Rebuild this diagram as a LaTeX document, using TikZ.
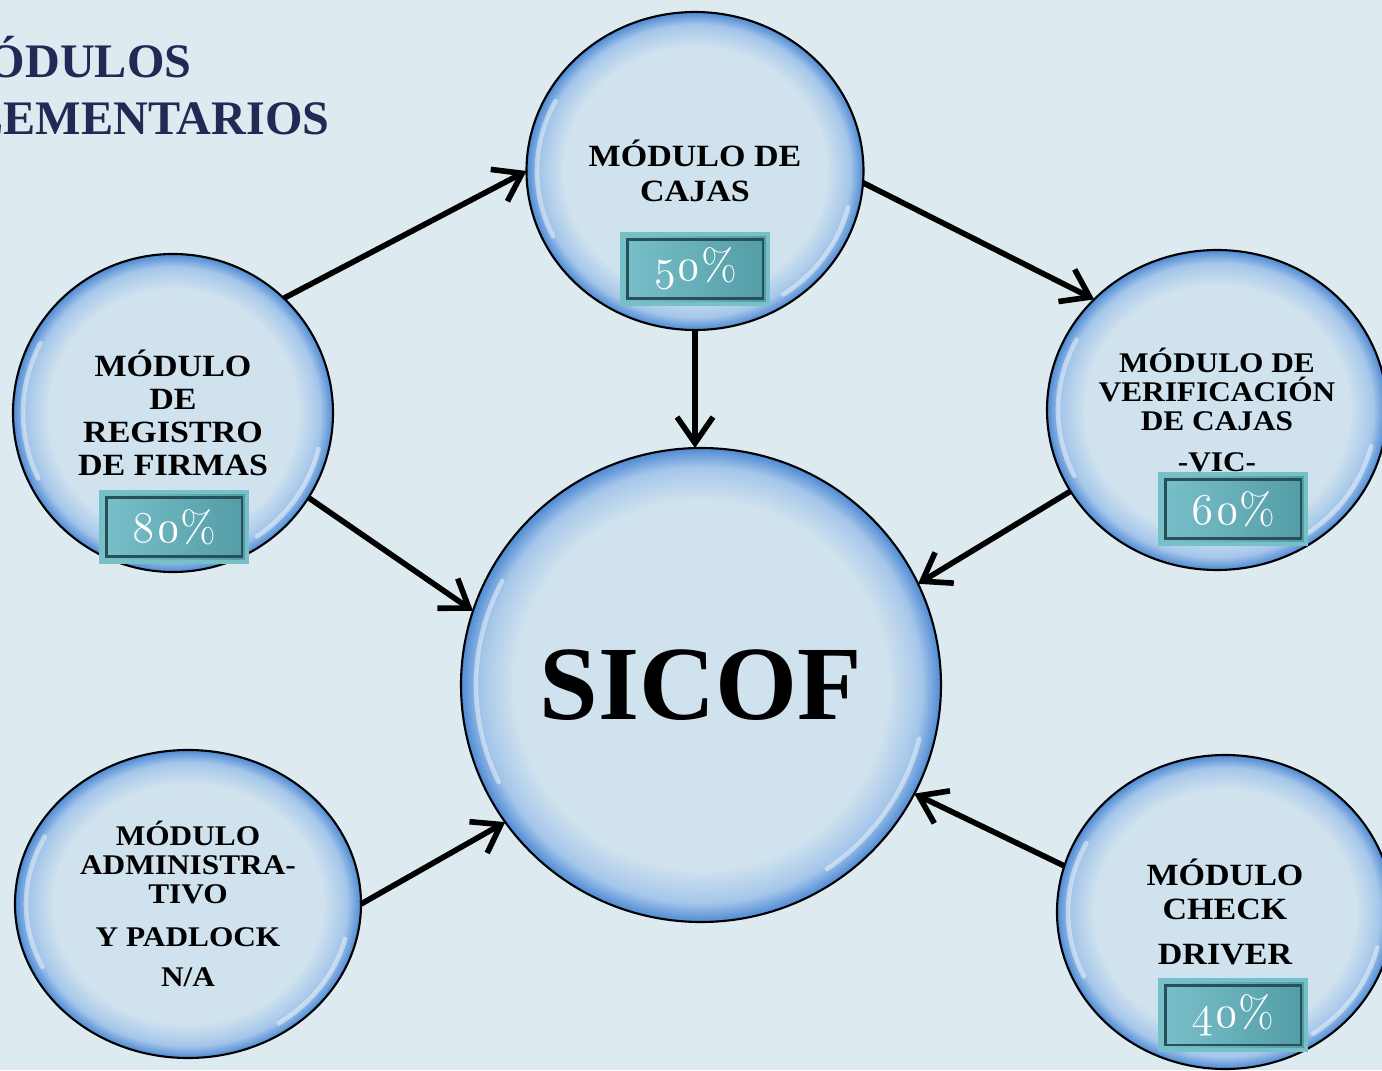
\documentclass[tikz,border=0pt]{standalone}
\usepackage{fontspec}
\usepackage{tikz}
\usetikzlibrary{shapes.geometric, arrows.meta}

\newfontfamily\lblfont[FakeStretch=1.1]{Liberation Serif}
\newfontfamily\sicoffont{Liberation Serif}
\newfontfamily\pctfont[Numbers=OldStyle]{Latin Modern Roman}

\newcommand\modfont{\lblfont\bfseries\fontsize{8.8pt}{8.6pt}\selectfont}
\newcommand\modsmall{\lblfont\bfseries\fontsize{8.1pt}{8.3pt}\selectfont}

\definecolor{bgcol}{RGB}{221,234,240}
\definecolor{bubin}{RGB}{207,226,238}
\definecolor{bubmid}{RGB}{165,198,234}
\definecolor{bubrim}{RGB}{78,138,212}
\definecolor{pctleft}{RGB}{122,192,202}
\definecolor{pctright}{RGB}{82,156,166}
\definecolor{pctrim}{RGB}{118,192,200}
\definecolor{pctline}{RGB}{40,80,88}
\definecolor{navy}{RGB}{37,40,85}

% glossy bubble: flat centre, blue rim
\pgfdeclareradialshading{bubshade}{\pgfpoint{0bp}{0bp}}{color(0bp)=(bubin); color(19.5bp)=(bubin); color(23bp)=(bubmid); color(25bp)=(bubrim); color(50bp)=(bubrim)}

\tikzset{
>={Straight Barb[length=2.6mm,width=3.6mm]}, % open barbed heads
bubble/.style={ellipse, draw=black, line width=0.6pt, shading=bubshade, inner sep=0pt, outer sep=0pt, align=center, font=\modfont},
gloss/.style={white, line width=1.3pt, opacity=0.45, line cap=round},
pct/.style={rectangle, minimum width=1.46cm, minimum height=0.70cm, draw=pctrim, line width=1.2pt,
  left color=pctleft, right color=pctright, text=white, font=\pctfont\fontsize{12.5pt}{13pt}\selectfont,
  path picture={\draw[pctline, line width=0.7pt] ([shift={(1.5pt,1.5pt)}]path picture bounding box.south west) rectangle ([shift={(-1.5pt,-1.5pt)}]path picture bounding box.north east);}},
title/.style={text=navy, font=\sicoffont\bfseries\fontsize{13.7pt}{15pt}\selectfont, inner sep=0pt},
link/.style={->, line width=1.6pt},
}

\begin{document}
\begin{tikzpicture}
    \clip (0,0) rectangle (13.82,10.70);
    \fill[bgcol] (0,0) rectangle (13.82,10.70);

    \node[title, anchor=base east] (title1) at (1.92,9.92) {MÓDULOS};
    \node[title, anchor=base east] (title2) at (3.30,9.35) {COMPLEMENTARIOS};

    \node[bubble, minimum width=4.80cm, minimum height=4.74cm, font=\sicoffont\bfseries\fontsize{30pt}{32pt}\selectfont] (sicof) at (7.01,3.85) {SICOF};
    \node[bubble, minimum width=3.37cm, minimum height=3.18cm] (cajas) at (6.95,8.99) {MÓDULO DE\\[1.4pt] CAJAS};
    \node[bubble, minimum width=3.20cm, minimum height=3.18cm] (firmas) at (1.73,6.57) {MÓDULO\\[0.8pt] DE\\[0.8pt] REGISTRO\\[0.8pt] DE FIRMAS};
    \node[bubble, minimum width=3.40cm, minimum height=3.20cm, font=\modsmall] (verif) at (12.17,6.60) {MÓDULO DE\\ VERIFICACIÓN\\ DE CAJAS\\[3.2pt] -VIC-};
    \node[bubble, minimum width=3.46cm, minimum height=3.08cm, font=\modsmall] (admin) at (1.88,1.66) {MÓDULO\\ ADMINISTRA-\\ TIVO\\[3.7pt] Y PADLOCK\\[3.2pt] N/A};
    \node[bubble, minimum width=3.36cm, minimum height=3.14cm] (check) at (12.25,1.58) {MÓDULO\\[1.1pt] CHECK\\[4.2pt] DRIVER};

    % highlights inside the rims
    \foreach \n/\a/\b in {sicof/2.25/2.22, cajas/1.58/1.49, firmas/1.50/1.49, verif/1.59/1.50, admin/1.62/1.44, check/1.57/1.47}{
        \draw[gloss] (\n.center) ++(152:\a cm and \b cm) arc[start angle=152, end angle=206, x radius=\a cm, y radius=\b cm];
        \draw[gloss] (\n.center) ++(-14:\a cm and \b cm) arc[start angle=-14, end angle=-56, x radius=\a cm, y radius=\b cm];
    }

    \node[pct] (pctcajas) at (6.95,8.01) {50\%};
    \node[pct] (pctfirmas) at (1.74,5.43) {80\%};
    \node[pct] (pctverif) at (12.33,5.61) {60\%};
    \node[pct] (pctcheck) at (12.33,0.55) {40\%};

    \draw[link] (firmas.46) -- (cajas.west);
    \draw[link] (cajas.-4) -- (verif.138);
    \draw[link] (cajas.south) -- (cajas.south |- sicof.north);
    \draw[link] (firmas.-32) -- (sicof.162);
    \draw[link] (verif.209) -- (sicof.25);
    \draw[link] (admin.east) -- (sicof.215);
    \draw[link] (check.164) -- (sicof.-27);
\end{tikzpicture}
\end{document}
